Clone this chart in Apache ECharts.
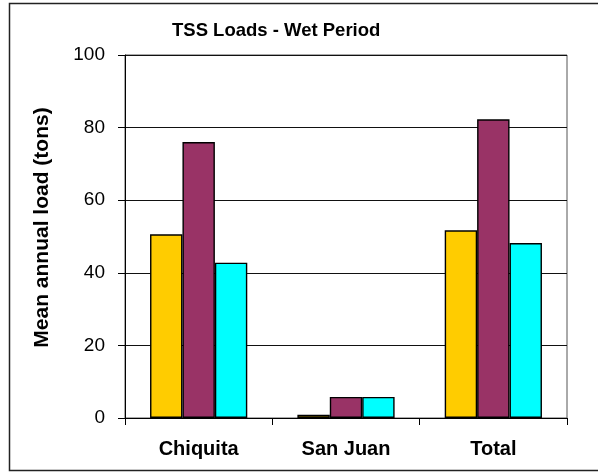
<!DOCTYPE html>
<html>
<head>
<meta charset="utf-8">
<script src="https://cdn.jsdelivr.net/npm/echarts@6/dist/echarts.min.js"></script>
<style>
  html, body { margin: 0; padding: 0; background: #fff; }
  #chart { width: 598px; height: 473px; }
</style>
</head>
<body>
<div id="chart"></div>
<script>
// data
const categories = ['Chiquita', 'San Juan', 'Total'];
const series1 = [50.6, 0.9, 51.7];
const series2 = [76.0, 5.8, 82.3];
const series3 = [42.8, 5.8, 48.2];
const seriesColors = ['#FFCC00', '#993366', '#00FFFF'];
const yTicks = { min: 0, max: 100, interval: 20 };

const font = "'Liberation Sans', Arial, sans-serif";

let myChart = echarts.init(document.getElementById('chart'));

function bar(name, data, color) {
    return {
        name: name,
        type: 'bar',
        data: data,
        barGap: '0%',
        barCategoryGap: '34%',
        itemStyle: {
            color: color,
            borderColor: '#000',
            borderWidth: 1.4
        }
    };
}

let option = {
    animation: false,
    backgroundColor: '#fff',
    title: {
        text: 'TSS Loads - Wet Period',
        left: 167,
        top: 16,
        textStyle: {
            fontFamily: font,
            fontWeight: 'bold',
            fontSize: 18.5,
            color: '#000'
        }
    },
    graphic: [
        {
            type: 'rect',
            shape: { x: 9.5, y: 3.5, width: 600, height: 467 },
            style: { fill: 'none', stroke: '#222', lineWidth: 1.5 },
            silent: true
        }
    ],
    grid: {
        left: 125,
        right: 31,
        top: 55,
        bottom: 55,
        show: true,
        borderColor: '#555',
        borderWidth: 1
    },
    xAxis: {
        type: 'category',
        data: categories,
        axisLine: { lineStyle: { color: '#000', width: 1 } },
        axisTick: { show: true, length: 7, lineStyle: { color: '#000' } },
        axisLabel: {
            margin: 21,
            fontFamily: font,
            fontWeight: 'bold',
            fontSize: 20,
            color: '#000'
        }
    },
    yAxis: {
        type: 'value',
        min: yTicks.min,
        max: yTicks.max,
        interval: yTicks.interval,
        name: 'Mean annual load (tons)',
        nameLocation: 'middle',
        nameGap: 72,
        nameTextStyle: {
            fontFamily: font,
            fontWeight: 'bold',
            fontSize: 21,
            color: '#000',
            padding: [0, 0, 0, 18]
        },
        axisLine: { show: true, lineStyle: { color: '#000', width: 1 } },
        axisTick: { show: true, length: 7, lineStyle: { color: '#000' } },
        axisLabel: {
            margin: 20,
            fontFamily: font,
            fontSize: 19,
            color: '#000'
        },
        splitLine: { show: true, lineStyle: { color: '#111', width: 1 } }
    },
    series: [
        bar('Series 1', series1, seriesColors[0]),
        bar('Series 2', series2, seriesColors[1]),
        bar('Series 3', series3, seriesColors[2])
    ]
};

myChart.setOption(option, true);
</script>
</body>
</html>
